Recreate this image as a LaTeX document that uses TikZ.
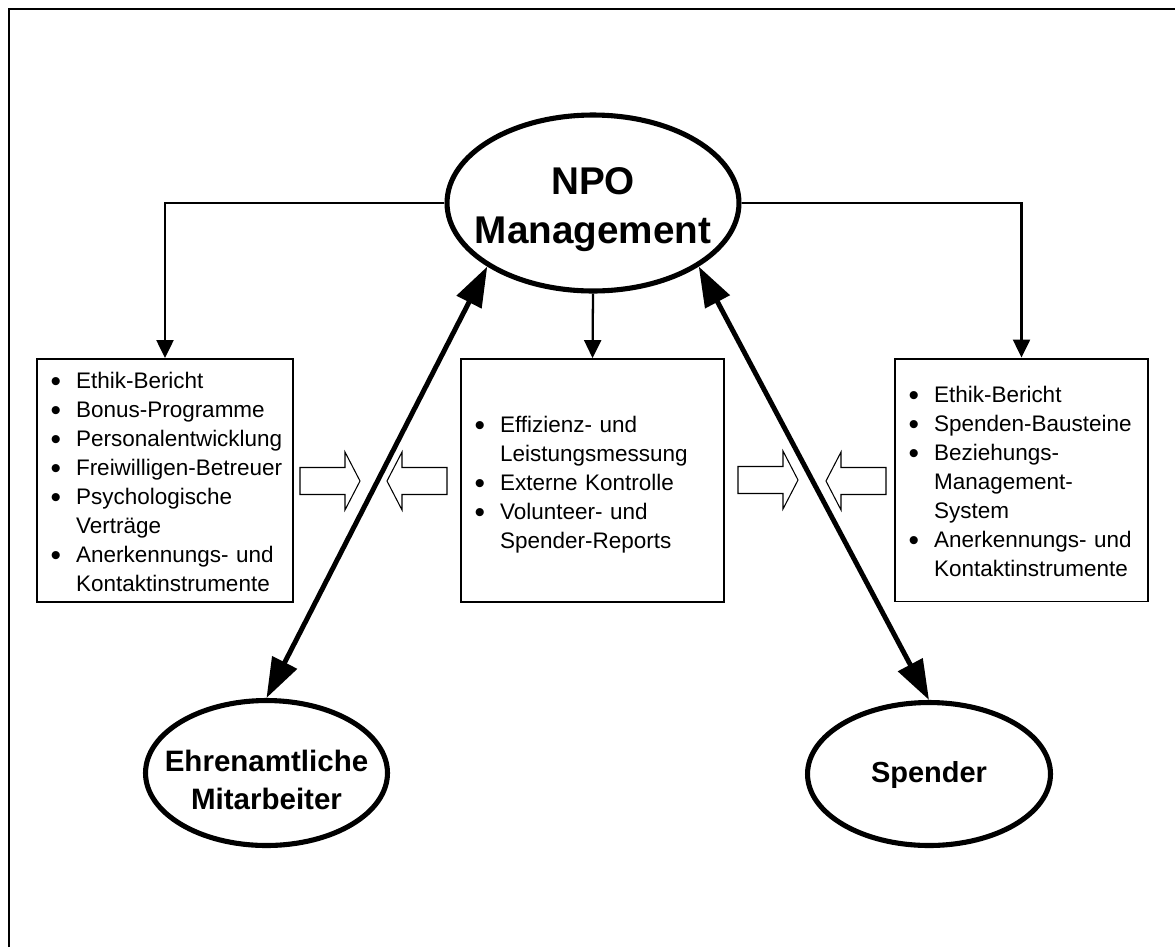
\documentclass[tikz,border=0pt]{standalone}
\usepackage{fontspec}
\setmainfont{Liberation Sans}
\usetikzlibrary{arrows.meta,shapes.geometric}

% bullet used in the lists
\newcommand{\bul}{\raisebox{-1.6pt}{\fontsize{17pt}{17pt}\selectfont\textbullet}}
% list layout: indent, bullet column, text column
\newcommand{\itemrows}[1]{\raisebox{-0.08cm}[\height][\depth]{%
  \begin{tabular}{@{\hspace{0.27cm}}p{0.51cm}@{}l@{}}#1\end{tabular}}}
% centred multi-line label, lowered a little; zero width so that the
% ellipse keeps its own size
\newcommand{\ovaltext}[2]{\makebox[0pt][c]{\raisebox{#1}[\height][\depth]{%
  \begin{tabular}{@{}c@{}}#2\end{tabular}}}}

\begin{document}
\begin{tikzpicture}[x=0.02cm,y=-0.02cm,
  oval/.style={ellipse,draw,line width=2.9pt,inner sep=0pt,align=center},
  listbox/.style={draw,rectangle,line width=1.1pt,inner sep=0pt,align=left,
    minimum height=4.86cm,font={\fontsize{12.8pt}{16.5pt}\selectfont}},
  feed/.style={line width=1.3pt,-{Triangle[length=0.36cm,width=0.34cm]}},
  link/.style={line width=2.8pt,
    {Triangle[length=0.8cm,width=0.54cm]}-{Triangle[length=0.8cm,width=0.54cm]}},
  hollow/.style={draw,line width=0.6pt,fill=white},
  blockarrow/.pic={
    \draw[hollow] (0,-13.5) -- (45,-13.5) -- (45,-29) -- (60,0) -- (45,29)
      -- (45,13.5) -- (0,13.5) -- cycle;
  },
]
\useasboundingbox (0,0) rectangle (1175,947);

% frame
\draw[line width=1.7pt] (9,947) -- (9,9) -- (1175,9);

% central actor
\node[oval,minimum width=5.84cm,minimum height=3.52cm,
  font={\fontsize{22pt}{28pt}\selectfont\bfseries}] (npo) at (593,203)
  {\ovaltext{-0.12cm}{NPO\\Management}};

% stakeholders
\node[oval,minimum width=4.84cm,minimum height=2.9cm,
  font={\fontsize{16.8pt}{21.6pt}\selectfont\bfseries}] (ehr) at (266.5,773)
  {\ovaltext{-0.2cm}{Ehrenamtliche\\Mitarbeiter}};
\node[oval,minimum width=4.86cm,minimum height=2.86cm,
  font={\fontsize{16.5pt}{19pt}\selectfont\bfseries}] (spd) at (929,774)
  {\ovaltext{-0.04cm}{Spender}};

% instrument boxes
\node[listbox,minimum width=5.12cm,text width=5.12cm] (lbox) at (165,480.5)
  {\itemrows{%
   \bul & Ethik-Bericht\\
   \bul & Bonus-Programme\\
   \bul & Personalentwicklung\\
   \bul & Freiwilligen-Betreuer\\
   \bul & Psychologische\\
        & Verträge\\
   \bul & Anerkennungs- und\\
        & Kontaktinstrumente}};
\node[listbox,minimum width=5.26cm,text width=5.26cm] (cbox) at (592.5,480.5)
  {\itemrows{%
   \bul & Effizienz- und\\
        & Leistungsmessung\\
   \bul & Externe Kontrolle\\
   \bul & Volunteer- und\\
        & Spender-Reports}};
\node[listbox,minimum width=5.06cm,text width=5.06cm] (rbox) at (1021.5,480)
  {\itemrows{%
   \bul & Ethik-Bericht\\
   \bul & Spenden-Bausteine\\
   \bul & Beziehungs-\\
        & Management-\\
        & System\\
   \bul & Anerkennungs- und\\
        & Kontaktinstrumente}};

% management feeds the instruments
\draw[feed] (npo.west) -| (lbox.north);
\draw[feed] (npo.east) -| (rbox.north);
\draw[feed] (npo.south) -- (cbox.north);

% two-way relations with the stakeholders
\draw[link] (npo.211) -- (ehr.north);
\draw[link] (npo.329) -- (spd.north);

% exchange between the instrument boxes
\pic at (300,481) {blockarrow};
\pic[rotate=180] at (447,481) {blockarrow};
\pic at (738,480) {blockarrow};
\pic[rotate=180] at (886,481) {blockarrow};
\end{tikzpicture}
\end{document}
